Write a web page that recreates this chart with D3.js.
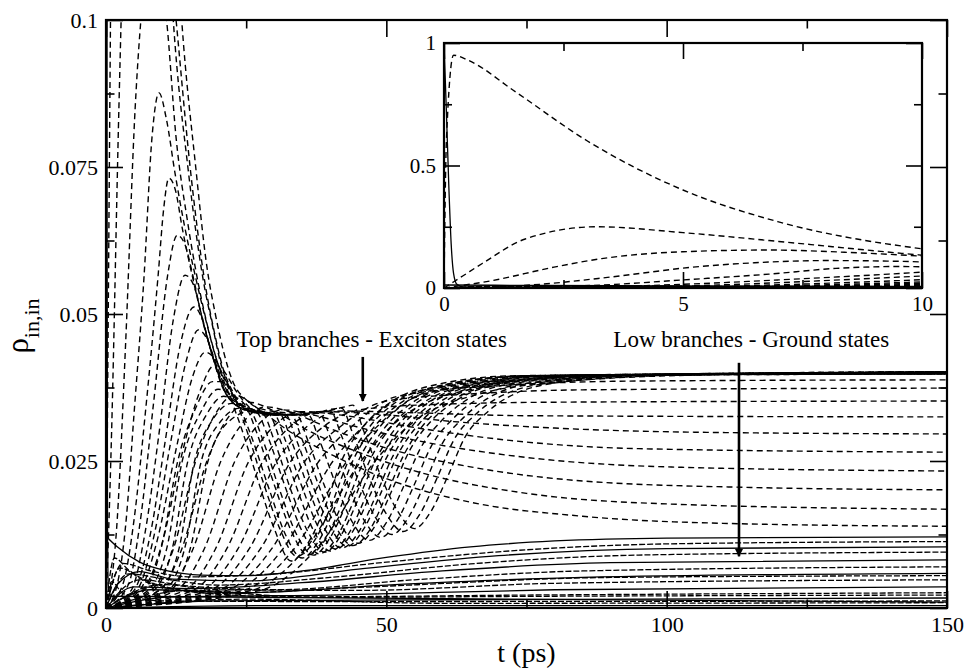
<!DOCTYPE html>
<html>
<head>
<meta charset="utf-8">
<script src="https://cdn.jsdelivr.net/npm/d3@7"></script>
<style>
  body { margin: 0; background: #fff; }
  svg { display: block; }
  svg text { font-family: "Liberation Serif", "Times New Roman", Times, serif !important; }
</style>
</head>
<body>
<svg id="chart" width="967" height="669"></svg>
<script>

// ---- axis ticks ----
var mainXTicks = [0, 50, 100, 150];
var mainXMinor = [25, 75, 125];
var mainYTicks = [0, 0.025, 0.05, 0.075, 0.1];
var mainYMinor = [0.0125, 0.0375, 0.0625, 0.0875];
var insetXTicks = [0, 5, 10];
var insetXMinor = [2.5, 7.5];
var insetYTicks = [0, 0.5, 1];
var insetYMinor = [0.25, 0.75];

// ---- top branches (exciton states), dashed: [t (ps), rho] ----
var excitonCurves = [
  [[0,0],[0.05,0.6],[0.2,0.95],[0.5,0.93],[1.5,0.8],[3,0.6],[5,0.4],[7,0.27],[10,0.16],[12,0.123],[13.5,0.1],[16,0.075],[18,0.058],[19.5,0.05],[21,0.0435],[22.5,0.0388],[25,0.0354],[28.4,0.0337],[33,0.0332],[37.8,0.0333],[42.6,0.0342],[44,0.0345],[46,0.03],[49,0.0225],[52,0.0165],[55,0.0135],[58,0.0165],[61,0.0225],[64,0.029],[68,0.0333],[72,0.036],[82,0.0385],[105,0.0397],[150,0.0402]],
  [[0,0],[0.4,0.05],[0.8,0.1],[1.7,0.2],[3.2,0.25],[5,0.226],[7,0.19],[9,0.152],[10.5,0.125],[12,0.1],[14.6,0.075],[17.3,0.056],[19,0.048],[20.5,0.0415],[22,0.0375],[24,0.0338],[26,0.029],[29,0.0205],[32,0.0125],[35,0.0085],[38,0.0115],[41,0.0175],[44,0.025],[48,0.031],[52,0.0345],[60,0.0378],[75,0.0395],[150,0.0401]],
  [[0,0],[1,0.03],[2.3,0.085],[3.3,0.12],[5,0.148],[6.8,0.155],[8.5,0.145],[10,0.13],[11.5,0.11],[12.5,0.1],[15,0.075],[17.7,0.055],[19.3,0.047],[20.8,0.041],[22.6,0.0368],[24.5,0.0342],[26,0.0332],[28,0.0285],[31,0.02],[34,0.0125],[37,0.009],[40,0.012],[43,0.018],[46,0.025],[50,0.031],[54,0.0345],[62,0.0378],[77,0.0395],[150,0.0399]],
  [[0,0],[2,0.015],[3.5,0.045],[5.2,0.085],[6.5,0.103],[8,0.112],[9.5,0.109],[10.8,0.1],[12.5,0.08],[14.5,0.066],[16.5,0.055],[18.5,0.0465],[20.3,0.0405],[22,0.0362],[24,0.031],[27,0.022],[30,0.0135],[33,0.008],[36,0.011],[39,0.017],[42,0.025],[46,0.031],[50,0.0345],[58,0.0378],[73,0.0395],[150,0.04]],
  [[0,0],[2,0.004],[3.5,0.014],[5,0.033],[6.8,0.0566],[8.2,0.08],[9.45,0.0876],[10.8,0.083],[12.3,0.074],[14,0.065],[15.8,0.057],[17.8,0.049],[19.8,0.042],[21.8,0.0375],[23.8,0.0345],[26,0.0335],[28,0.033],[30,0.0285],[33,0.02],[36,0.013],[39,0.0095],[42,0.0125],[45,0.0185],[48,0.025],[52,0.031],[56,0.0345],[64,0.0378],[80,0.0395],[150,0.0399]],
  [[0,0],[3,0.004],[5,0.015],[7,0.033],[9.3,0.0566],[10.3,0.068],[11.2,0.0731],[12.4,0.071],[13.6,0.0646],[15.5,0.056],[17.5,0.048],[19.5,0.0415],[21.5,0.037],[23.5,0.035],[26,0.0338],[28.5,0.0333],[30,0.033],[32,0.0285],[35,0.0205],[38,0.0135],[41,0.01],[44,0.013],[47,0.019],[50,0.0255],[54,0.0312],[58,0.0347],[66,0.0379],[82,0.0395],[150,0.04]],
  [[0,0],[4,0.004],[6,0.014],[8.5,0.035],[11,0.0566],[12.7,0.0634],[14,0.062],[15.5,0.0565],[17.2,0.049],[19.2,0.0423],[21.2,0.0368],[23.2,0.0345],[25.5,0.0336],[29,0.0331],[32,0.0329],[34,0.0285],[37,0.0205],[40,0.0138],[43,0.0105],[46,0.0135],[49,0.0195],[52,0.026],[56,0.0315],[60,0.0348],[68,0.038],[85,0.0395],[150,0.0401]],
  [[0,0],[4.5,0.003],[7,0.013],[9.5,0.03],[12,0.049],[14.1,0.0566],[15.6,0.055],[17,0.05],[18.8,0.0435],[20.8,0.0375],[22.8,0.0348],[25,0.0336],[30,0.033],[34,0.0328],[36,0.0285],[39,0.0207],[42,0.014],[45,0.011],[48,0.014],[51,0.02],[54,0.0265],[58,0.0318],[62,0.035],[70,0.038],[88,0.0395],[150,0.0398]],
  [[0,0],[5,0.003],[8,0.013],[10.5,0.028],[13.3,0.045],[15.7,0.0512],[17,0.0495],[18.5,0.0445],[20.3,0.039],[22.3,0.0352],[24.5,0.034],[30,0.0329],[36,0.0329],[38,0.0287],[41,0.021],[44,0.0145],[47,0.0115],[50,0.0145],[53,0.0205],[56,0.027],[60,0.032],[64,0.0352],[72,0.0381],[90,0.0395],[150,0.0402]],
  [[0,0],[5.5,0.003],[8.5,0.012],[11.5,0.028],[14.3,0.042],[16.5,0.0473],[18,0.0458],[19.8,0.041],[21.8,0.0365],[24,0.034],[30,0.0328],[38,0.0331],[40,0.029],[43,0.0213],[46,0.015],[49,0.012],[52,0.015],[55,0.021],[58,0.0275],[62,0.0323],[66,0.0354],[75,0.0382],[95,0.0396],[150,0.0399]],
  [[0,0],[6,0.003],[9,0.011],[12.5,0.027],[15.5,0.0395],[17.7,0.0435],[19.3,0.0425],[21.2,0.039],[23.4,0.0352],[26,0.0335],[32,0.0328],[40,0.0335],[42,0.0293],[45,0.0217],[48,0.0155],[51,0.0125],[54,0.0155],[57,0.0215],[60,0.028],[64,0.0326],[68,0.0356],[77,0.0383],[98,0.0396],[150,0.04]],
  [[0,0],[6.5,0.003],[10,0.011],[13.5,0.026],[16.8,0.037],[19.4,0.0413],[21,0.0403],[23,0.0372],[25.5,0.0342],[28.5,0.0328],[35,0.0328],[42,0.034],[44,0.0297],[47,0.022],[50,0.016],[53,0.013],[56,0.016],[59,0.022],[62,0.0285],[66,0.033],[70,0.0358],[80,0.0384],[100,0.0396],[150,0.0401]],
  [[0,0],[6.8,0.003],[9.8,0.01],[12.8,0.025],[16,0.034],[19,0.0385],[21,0.0385],[23,0.0355],[25,0.0305],[28,0.0215],[31,0.0135],[34,0.0088],[37,0.0112],[40,0.017],[43,0.0245],[47,0.0308],[51,0.0345],[59,0.0377],[74,0.0394],[150,0.04]],
  [[0,0],[7.5,0.003],[10.8,0.01],[13.6,0.025],[17,0.0335],[20,0.0372],[22.5,0.0362],[25,0.0342],[27,0.0295],[30,0.021],[33,0.0132],[36,0.009],[39,0.0115],[42,0.0175],[45,0.025],[49,0.031],[53,0.0346],[61,0.0378],[76,0.0395],[150,0.0399]],
  [[0,0],[8.5,0.003],[11.8,0.01],[14.6,0.025],[18,0.033],[21,0.036],[24,0.0345],[27,0.0332],[29,0.0288],[32,0.0205],[35,0.013],[38,0.0092],[41,0.0118],[44,0.0178],[47,0.025],[51,0.031],[55,0.0346],[63,0.0378],[78,0.0395],[150,0.0401]],
  [[0,0],[9.5,0.003],[13,0.01],[15.8,0.025],[19,0.032],[22.5,0.0348],[26,0.0338],[29,0.0331],[31,0.0287],[34,0.0205],[37,0.0132],[40,0.0097],[43,0.0122],[46,0.0182],[49,0.0252],[53,0.0312],[57,0.0346],[65,0.0379],[80,0.0395],[150,0.0398]],
  [[0,0],[10.5,0.003],[14,0.01],[17,0.025],[20.5,0.0318],[24,0.034],[28,0.0333],[31,0.033],[33,0.0286],[36,0.0206],[39,0.0135],[42,0.0102],[45,0.0128],[48,0.0188],[51,0.0255],[55,0.0314],[59,0.0347],[67,0.0379],[84,0.0395],[150,0.0402]],
  [[0,0],[11.5,0.003],[15,0.01],[18.2,0.025],[22,0.0318],[26,0.0335],[30,0.033],[33,0.0329],[35,0.0286],[38,0.0207],[41,0.0138],[44,0.0106],[47,0.0132],[50,0.0192],[53,0.0258],[57,0.0316],[61,0.0348],[69,0.038],[86,0.0395],[150,0.04]],
  [[0,0],[8,0.003],[12,0.01],[16,0.025],[19.5,0.033],[23,0.0362],[27,0.034],[32,0.0305],[40,0.0262],[50,0.022],[65,0.018],[85,0.0156],[110,0.0144],[150,0.0139]],
  [[0,0],[9.5,0.003],[13.5,0.01],[18,0.025],[21.5,0.032],[25.5,0.035],[30,0.0335],[36,0.0302],[45,0.0265],[57,0.0228],[75,0.0195],[100,0.0177],[150,0.0168]],
  [[0,0],[11,0.003],[15.5,0.01],[20.5,0.025],[24,0.031],[28.5,0.0342],[33,0.0333],[40,0.0305],[50,0.0272],[65,0.024],[85,0.0216],[115,0.0205],[150,0.0201]],
  [[0,0],[12.5,0.003],[17.5,0.01],[23,0.025],[27,0.031],[31.5,0.0337],[37,0.0328],[46,0.0305],[58,0.028],[75,0.0256],[100,0.024],[150,0.0233]],
  [[0,0],[14,0.003],[19.5,0.01],[25.5,0.025],[30,0.031],[35,0.0334],[42,0.0328],[55,0.0307],[72,0.0285],[95,0.0271],[150,0.0265]],
  [[0,0],[15.5,0.003],[21.5,0.01],[28,0.025],[33,0.031],[38.5,0.0334],[48,0.033],[62,0.0317],[80,0.0306],[105,0.0299],[150,0.0296]],
  [[0,0],[17,0.003],[23.5,0.01],[30.5,0.025],[36,0.031],[42,0.0335],[55,0.0332],[75,0.0327],[150,0.0325]],
  [[0,0],[18.5,0.003],[25.5,0.01],[33,0.025],[39,0.031],[46,0.0338],[58,0.0346],[80,0.035],[150,0.0352]],
  [[0,0],[20,0.003],[27.5,0.01],[35.5,0.025],[42,0.031],[50,0.0352],[65,0.0364],[85,0.0371],[150,0.0374]],
  [[0,0],[21.5,0.003],[29.5,0.01],[38,0.025],[44,0.031],[52,0.036],[70,0.0378],[95,0.0386],[150,0.0388]],
  [[0,0],[23,0.003],[31.5,0.01],[40.5,0.025],[46,0.031],[52,0.0355],[61,0.0378],[75,0.0389],[88,0.0395],[110,0.0398],[150,0.0398]],
  [[0,0],[24.5,0.003],[33.5,0.01],[43,0.025],[48.5,0.031],[56,0.0362],[68,0.038],[85,0.0392],[110,0.0398],[150,0.04]],
  [[0,0],[26,0.003],[35.5,0.01],[45.5,0.025],[51,0.031],[62,0.0365],[76,0.0383],[95,0.0395],[150,0.0401]],
  [[0,0],[27.5,0.003],[37.5,0.01],[48,0.025],[54,0.031],[67,0.0365],[82,0.0385],[105,0.0396],[150,0.0401]]
];

// ---- low branches (ground states) ----
var groundSolid = [
  [[0,0.0122],[2,0.0104],[6,0.0078],[11,0.0063],[17,0.0056],[25,0.0055],[35,0.0063],[50,0.0086],[65,0.0104],[80,0.0114],[100,0.0119],[150,0.0121]],
  [[0,0],[2,0.004],[6,0.0062],[12,0.0049],[25,0.0046],[45,0.0066],[70,0.0089],[100,0.0101],[150,0.0104]],
  [[0,0],[5,0.0036],[15,0.0033],[35,0.0043],[60,0.0063],[90,0.0077],[150,0.0082]],
  [[0,0],[8,0.0031],[25,0.0026],[50,0.0039],[85,0.0052],[150,0.0059]],
  [[0,0],[12,0.0019],[40,0.0022],[80,0.0031],[150,0.0036]],
  [[0,0],[20,0.0012],[60,0.0014],[150,0.0017]],
  [[0,0],[30,0.0004],[150,0.0004]]
];
var groundDashed = [
  [[0,0],[3,0.0076],[8,0.0063],[15,0.0053],[30,0.0058],[50,0.0078],[75,0.0099],[100,0.0109],[150,0.0113]],
  [[0,0],[4,0.0058],[10,0.005],[20,0.0039],[40,0.0052],[65,0.0075],[95,0.009],[150,0.0095]],
  [[0,0],[6,0.0048],[14,0.0038],[30,0.0031],[55,0.0048],[85,0.0063],[150,0.007]],
  [[0,0],[10,0.004],[20,0.0031],[45,0.003],[80,0.0042],[150,0.0048]],
  [[0,0],[15,0.003],[35,0.0019],[75,0.0022],[150,0.0026]],
  [[0,0],[25,0.0015],[60,0.0008],[150,0.0009]],
  [[0,0],[1.5,0.0085],[4,0.0065],[9,0.004],[20,0.0025],[45,0.0035],[90,0.0052],[150,0.0055]],
  [[0,0],[2.5,0.0068],[7,0.0045],[15,0.0028],[35,0.0018],[80,0.002],[150,0.0022]],
  [[0,0],[1,0.0045],[3,0.0025],[10,0.0012],[40,0.0011],[150,0.0012]]
];
// initially populated state, empties within ~0.3 ps
var initialState = [[0,1],[0.05,0.72],[0.1,0.42],[0.15,0.18],[0.2,0.06],[0.27,0.015],[0.4,0.004],[1,0.002],[150,0.001]];

// ---- annotations: text centre, arrow start, arrow tip as [t, rho] ----
var noteText = ["Top branches - Exciton states", "Low branches - Ground states"];
var noteAt = [[47.4, 0.0444], [115.1, 0.0444]];
var arrowFrom = [[45.8, 0.0427], [112.9, 0.0417]];
var arrowTo = [[45.8, 0.0352], [112.9, 0.0088]];


var svg = d3.select("#chart");
var FONT = "Liberation Serif, Times New Roman, serif";

var M = { left: 106, right: 947, top: 20, bottom: 608 };
var I = { left: 444, right: 922, top: 43, bottom: 288 };

var x = d3.scaleLinear().domain([0, 150]).range([M.left, M.right]);
var y = d3.scaleLinear().domain([0, 0.1]).range([M.bottom, M.top]);
var xi = d3.scaleLinear().domain([0, 10]).range([I.left, I.right]);
var yi = d3.scaleLinear().domain([0, 1]).range([I.bottom, I.top]);

var defs = svg.append("defs");
defs.append("clipPath").attr("id", "clipMain").append("rect")
    .attr("x", M.left).attr("y", M.top)
    .attr("width", M.right - M.left).attr("height", M.bottom - M.top);
defs.append("clipPath").attr("id", "clipInset").append("rect")
    .attr("x", I.left).attr("y", I.top)
    .attr("width", I.right - I.left).attr("height", I.bottom - I.top);
defs.append("marker").attr("id", "head")
    .attr("viewBox", "0 0 10 10").attr("refX", 9).attr("refY", 5)
    .attr("markerWidth", 3.2).attr("markerHeight", 3.2)
    .attr("markerUnits", "strokeWidth").attr("orient", "auto")
  .append("path").attr("d", "M0,0L10,5L0,10z").attr("fill", "#000");

// draws all curve families into a clipped group for the given scales
function drawCurves(g, sx, sy) {
    var line = d3.line()
        .x(function (d) { return sx(d[0]); })
        .y(function (d) { return sy(d[1]); })
        .curve(d3.curveMonotoneX);

    g.selectAll("path.gs").data(groundSolid).join("path")
        .attr("class", "gs").attr("d", line)
        .attr("fill", "none").attr("stroke", "#000").attr("stroke-width", 1.3);

    g.selectAll("path.gd").data(groundDashed).join("path")
        .attr("class", "gd").attr("d", line)
        .attr("fill", "none").attr("stroke", "#000").attr("stroke-width", 1.3)
        .attr("stroke-dasharray", "6,2");

    g.append("path").attr("d", line(initialState))
        .attr("fill", "none").attr("stroke", "#000").attr("stroke-width", 1.3);

    g.selectAll("path.ex").data(excitonCurves).join("path")
        .attr("class", "ex").attr("d", line)
        .attr("fill", "none").attr("stroke", "#000").attr("stroke-width", 1.4)
        .attr("stroke-dasharray", "6,4");
}

// mirrored inward ticks on all four sides of a box
function drawFrame(box, sx, sy, xt, xm, yt, ym, bigTick, fontSize, pad) {
    var g = svg.append("g");
    var sides = [
        [d3.axisBottom(sx), "translate(0," + box.bottom + ")", xt, xm, true],
        [d3.axisTop(sx), "translate(0," + box.top + ")", xt, xm, false],
        [d3.axisLeft(sy), "translate(" + box.left + ",0)", yt, ym, true],
        [d3.axisRight(sy), "translate(" + box.right + ",0)", yt, ym, false]
    ];
    sides.forEach(function (s) {
        var major = s[0].tickValues(s[2]).tickSize(-bigTick).tickPadding(pad)
            .tickFormat(s[4] ? d3.format("") : function () { return ""; });
        var ga = g.append("g").attr("transform", s[1]).call(major);
        ga.select(".domain").remove();
        ga.attr("font-family", FONT).attr("font-size", fontSize);
        ga.selectAll("line").attr("stroke-width", 1.6);

        var minor = s[0].tickValues(s[3]).tickSize(-bigTick / 2).tickFormat("");
        var gm = g.append("g").attr("transform", s[1]).call(minor);
        gm.select(".domain").remove();
        gm.selectAll("line").attr("stroke-width", 1.6);
    });
    g.append("rect")
        .attr("x", box.left).attr("y", box.top)
        .attr("width", box.right - box.left).attr("height", box.bottom - box.top)
        .attr("fill", "none").attr("stroke", "#000").attr("stroke-width", 2.2);
}

// ---- main plot ----
drawCurves(svg.append("g").attr("clip-path", "url(#clipMain)"), x, y);
drawFrame(M, x, y, mainXTicks, mainXMinor, mainYTicks, mainYMinor, 17, 22, 8);

// axis titles
svg.append("text")
    .attr("x", (M.left + M.right) / 2).attr("y", 662)
    .attr("text-anchor", "middle")
    .attr("font-size", 28)
    .text("t (ps)");

var ylab = svg.append("text")
    .attr("transform", "translate(28," + ((M.top + M.bottom) / 2 + 12) + ") rotate(-90)")
    .attr("text-anchor", "middle");
ylab.append("tspan").attr("font-size", 31).text("\u03c1");
ylab.append("tspan").attr("font-size", 22).attr("dy", 11).text("in,in");

// annotations
svg.selectAll("text.note").data(noteText).join("text")
    .attr("class", "note")
    .attr("x", function (d, i) { return x(noteAt[i][0]); })
    .attr("y", function (d, i) { return y(noteAt[i][1]); })
    .attr("text-anchor", "middle")
    .attr("font-size", 23)
    .text(function (d) { return d; });

svg.selectAll("line.arrow").data(arrowFrom).join("line")
    .attr("class", "arrow")
    .attr("x1", function (d) { return x(d[0]); })
    .attr("y1", function (d) { return y(d[1]); })
    .attr("x2", function (d, i) { return x(arrowTo[i][0]); })
    .attr("y2", function (d, i) { return y(arrowTo[i][1]); })
    .attr("stroke", "#000").attr("stroke-width", 2.6)
    .attr("marker-end", "url(#head)");

// ---- inset (first 10 ps, full scale) ----
svg.append("rect")
    .attr("x", I.left).attr("y", I.top)
    .attr("width", I.right - I.left).attr("height", I.bottom - I.top)
    .attr("fill", "#fff");
drawCurves(svg.append("g").attr("clip-path", "url(#clipInset)"), xi, yi);
drawFrame(I, xi, yi, insetXTicks, insetXMinor, insetYTicks, insetYMinor, 16, 21, 8);

</script>
</body>
</html>
